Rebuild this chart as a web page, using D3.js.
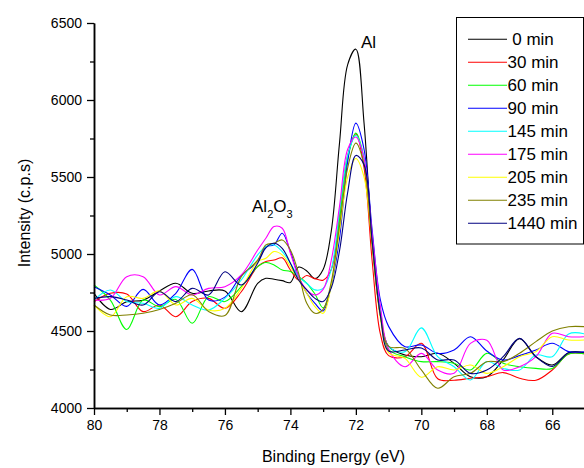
<!DOCTYPE html>
<html>
<head>
<meta charset="utf-8">
<script src="https://cdn.jsdelivr.net/npm/d3@7"></script>
<style>
  html, body { margin: 0; padding: 0; background: #fff; }
  svg { display: block; font-family: "Liberation Sans", Arial, sans-serif; }
</style>
</head>
<body>
<svg id="chart" width="584" height="468"></svg>
<script>
// ---------------- DATA ----------------
const energies = [80, 79.5, 79, 78.5, 78, 77.5, 77, 76.5, 76, 75.5, 75, 74.75, 74.5, 74.25, 74, 73.75, 73.5, 73.25, 73, 72.75, 72.5, 72.25, 72, 71.75, 71.5, 71.25, 71, 70.5, 70, 69.5, 69, 68.5, 68, 67.5, 67, 66.5, 66, 65.5, 65];

const int0min    = [4745, 4640, 4690, 4700, 4760, 4810, 4745, 4760, 4760, 4625, 4810, 4842, 4836, 4827, 4815, 4915, 4890, 4840, 4900, 5150, 5720, 6230, 6330, 5850, 5080, 4600, 4400, 4344, 4333, 4355, 4290, 4203, 4203, 4312, 4450, 4333, 4279, 4359, 4359];
const int30min   = [4690, 4745, 4740, 4626, 4669, 4593, 4691, 4712, 4647, 4755, 4920, 4951, 4961, 4975, 4896, 4831, 4860, 4840, 4830, 4900, 5250, 5640, 5780, 5560, 4950, 4480, 4340, 4333, 4420, 4190, 4180, 4193, 4203, 4230, 4193, 4180, 4247, 4351, 4351];
const int60min   = [4799, 4701, 4510, 4701, 4658, 4705, 4550, 4723, 4691, 4788, 4918, 4945, 4929, 4896, 4886, 4853, 4810, 4740, 4650, 4800, 5220, 5620, 5785, 5620, 5080, 4620, 4380, 4333, 4301, 4301, 4290, 4247, 4355, 4290, 4268, 4257, 4257, 4351, 4351];
const int90min   = [4788, 4734, 4660, 4770, 4669, 4745, 4900, 4701, 4720, 4860, 4950, 5048, 5059, 5135, 5016, 4853, 4745, 4680, 4630, 4800, 5100, 5600, 5850, 5680, 5150, 4700, 4530, 4398, 4409, 4355, 4377, 4463, 4370, 4311, 4340, 4376, 4420, 4366, 4366];
const int145min  = [4701, 4766, 4691, 4680, 4647, 4723, 4669, 4636, 4712, 4831, 4994, 5048, 5059, 5016, 4940, 4853, 4810, 4767, 4777, 4900, 5280, 5640, 5770, 5620, 5100, 4640, 4400, 4366, 4520, 4333, 4268, 4182, 4301, 4257, 4247, 4344, 4333, 4481, 4481];
const int175min  = [4701, 4712, 4853, 4853, 4734, 4788, 4734, 4777, 4788, 4864, 5026, 5102, 5178, 5167, 5005, 4853, 4767, 4734, 4770, 4960, 5310, 5680, 5760, 5620, 5120, 4660, 4380, 4268, 4355, 4247, 4225, 4420, 4440, 4247, 4268, 4333, 4485, 4463, 4463];
const int205min  = [4669, 4593, 4723, 4712, 4760, 4669, 4712, 4636, 4647, 4777, 4951, 4972, 5016, 4994, 4918, 4831, 4745, 4658, 4615, 4800, 5150, 5500, 5620, 5500, 5050, 4580, 4360, 4322, 4200, 4268, 4247, 4279, 4225, 4268, 4333, 4366, 4463, 4442, 4442];
const int235min  = [4669, 4604, 4604, 4615, 4640, 4680, 4735, 4626, 4600, 4853, 4960, 5059, 5070, 5091, 5026, 4875, 4680, 4615, 4640, 4820, 5180, 5560, 5720, 5580, 5050, 4600, 4400, 4387, 4247, 4128, 4203, 4225, 4300, 4301, 4355, 4431, 4500, 4528, 4528];
const int1440min = [4712, 4723, 4701, 4669, 4755, 4691, 4777, 4734, 4885, 4799, 4940, 5040, 5070, 5037, 4940, 4831, 4767, 4712, 4691, 4780, 5020, 5400, 5640, 5580, 5080, 4600, 4370, 4377, 4390, 4312, 4312, 4225, 4247, 4333, 4452, 4333, 4270, 4359, 4359];

const seriesLabels = ["\u00A00 min", "30 min", "60 min", "90 min", "145 min", "175 min", "205 min", "235 min", "1440 min"];
const seriesValues = [int0min, int30min, int60min, int90min, int145min, int175min, int205min, int235min, int1440min];

const xMajorTicks = [80, 78, 76, 74, 72, 70, 68, 66];
const xMinorTicks = [79, 77, 75, 73, 71, 69, 67, 65];
const yMajorTicks = [4000, 4500, 5000, 5500, 6000, 6500];
const yMinorTicks = [4250, 4750, 5250, 5750, 6250];

// ---------------- STYLE ----------------
const seriesColors = ["#000000", "#ff0000", "#00ff00", "#0000ff", "#00ffff", "#ff00ff", "#ffff00", "#808000", "#000080"];

const svg = d3.select("#chart");
const x = d3.scaleLinear().domain([80, 65]).range([94, 585]);
const y = d3.scaleLinear().domain([4000, 6500]).range([408, 23]);

// lines
const line = d3.line()
  .x((d, i) => x(energies[i]))
  .y(d => y(d))
  .curve(d3.curveCatmullRom.alpha(0.5));

svg.append("g").selectAll("path")
  .data(seriesValues)
  .join("path")
  .attr("d", d => line(d))
  .attr("fill", "none")
  .attr("stroke", (d, i) => seriesColors[i])
  .attr("stroke-width", 1.1);

// axes
function styleAxis(g) {
  g.select(".domain").attr("stroke", "#000").attr("stroke-width", 1.5);
  g.selectAll(".tick line").attr("stroke", "#000").attr("stroke-width", 1.3);
  g.selectAll(".tick text").attr("fill", "#000").attr("font-size", "14px")
    .attr("font-family", "'Liberation Sans', Arial, sans-serif");
}

const xAxisG = svg.append("g").attr("transform", "translate(0,408)")
  .call(d3.axisBottom(x).tickValues(xMajorTicks).tickFormat(d3.format("d")).tickSize(7).tickPadding(5).tickSizeOuter(0));
styleAxis(xAxisG);
const xMinorG = svg.append("g").attr("transform", "translate(0,408)")
  .call(d3.axisBottom(x).tickValues(xMinorTicks).tickFormat("").tickSize(4).tickSizeOuter(0));
styleAxis(xMinorG);

const yAxisG = svg.append("g").attr("transform", "translate(94,0)")
  .call(d3.axisLeft(y).tickValues(yMajorTicks).tickFormat(d3.format("d")).tickSize(7).tickPadding(5).tickSizeOuter(0));
styleAxis(yAxisG);
const yMinorG = svg.append("g").attr("transform", "translate(94,0)")
  .call(d3.axisLeft(y).tickValues(yMinorTicks).tickFormat("").tickSize(4).tickSizeOuter(0));
styleAxis(yMinorG);

// axis titles
svg.append("text")
  .attr("x", 333.5).attr("y", 462)
  .attr("text-anchor", "middle")
  .attr("font-size", "16px")
  .text("Binding Energy (eV)");

svg.append("text")
  .attr("transform", "translate(30,213) rotate(-90)")
  .attr("text-anchor", "middle")
  .attr("font-size", "16px")
  .text("Intensity (c.p.s)");

// peak annotations
svg.append("text")
  .attr("x", 361).attr("y", 48)
  .attr("font-size", "17px")
  .text("Al");

const ann = svg.append("text").attr("x", 252).attr("y", 212).attr("font-size", "17px");
ann.append("tspan").text("Al");
ann.append("tspan").attr("font-size", "11px").attr("dy", 6).text("2");
ann.append("tspan").attr("dy", -6).text("O");
ann.append("tspan").attr("font-size", "11px").attr("dy", 6).text("3");

// legend
const lg = svg.append("g");
lg.append("rect")
  .attr("x", 456.5).attr("y", 17.5)
  .attr("width", 127).attr("height", 226.5)
  .attr("fill", "#fff").attr("stroke", "#000").attr("stroke-width", 1);

const rows = lg.selectAll("g.row").data(seriesLabels).join("g")
  .attr("transform", (d, i) => `translate(0,${39.3 + i * 23})`);
rows.append("line")
  .attr("x1", 468).attr("x2", 507).attr("y1", 0).attr("y2", 0)
  .attr("stroke", (d, i) => seriesColors[i]).attr("stroke-width", 1.1);
rows.append("text")
  .attr("x", 507.5).attr("y", 6)
  .attr("font-size", "17px")
  .style("white-space", "pre")
  .text(d => d);
</script>
</body>
</html>
